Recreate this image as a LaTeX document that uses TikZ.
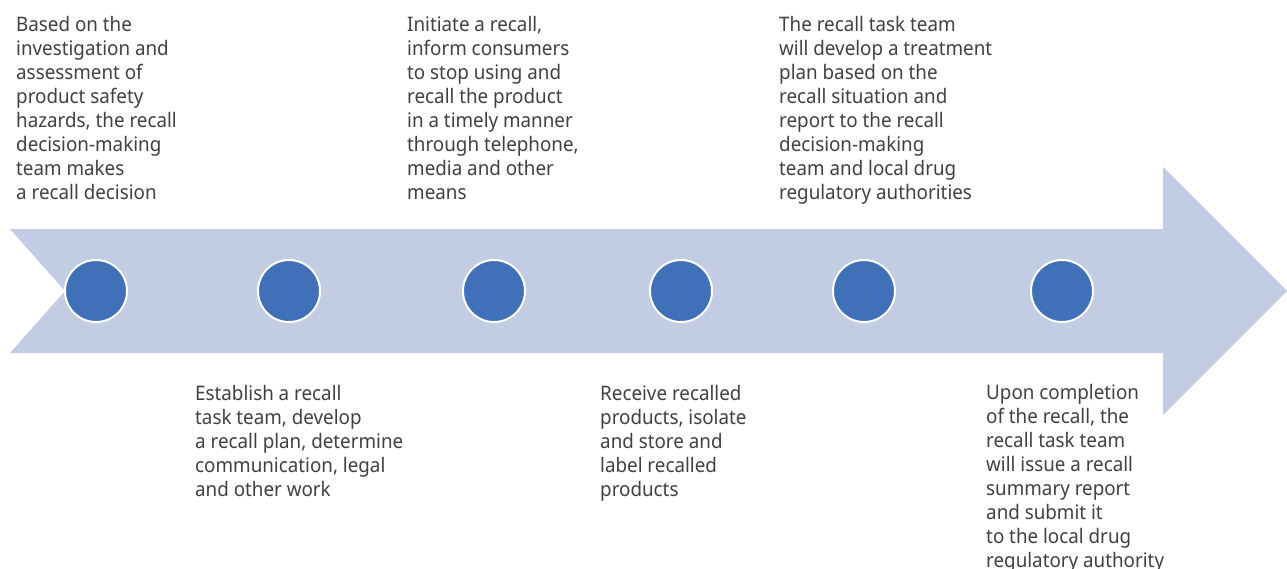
\documentclass[tikz,border=0pt]{standalone}
\usepackage{fontspec}
\setmainfont{Noto Sans}[FakeStretch=0.94]
\usetikzlibrary{positioning}
\definecolor{arrowfill}{HTML}{C2CCE3}
\definecolor{dotblue}{HTML}{3F70B8}
\definecolor{txtgray}{HTML}{404040}

\begin{document}
\begin{tikzpicture}[x=1pt,y=-1pt,
    dot/.style={circle,fill=dotblue,draw=white,line width=2pt,minimum size=62pt,inner sep=0pt},
    steptext/.style={anchor=north west,align=left,inner sep=0pt,text=txtgray,
      font=\fontsize{20}{24}\selectfont}]
  \useasboundingbox (0,0) rectangle (1287,568);
  % the big arrow
  \fill[arrowfill] (10,229) -- (1163,229) -- (1163,167) -- (1287,291)
    -- (1163,415) -- (1163,353) -- (10,353) -- (65,291) -- cycle;
  % steps on the arrow
  \node[dot] (s1) at (96,291) {};
  \node[dot] (s2) at (289,291) {};
  \node[dot] (s3) at (494,291) {};
  \node[dot] (s4) at (681,291) {};
  \node[dot] (s5) at (864,291) {};
  \node[dot] (s6) at (1062,291) {};
  % texts above
  \node[steptext] (t1) at (16,16) {Based on the\\investigation and\\assessment of\\product safety\\hazards, the recall\\decision-making\\team makes\\a recall decision};
  \node[steptext] (t3) at (407,16) {Initiate a recall,\\inform consumers\\to stop using and\\recall the product\\in a timely manner\\through telephone,\\media and other\\means};
  \node[steptext] (t5) at (779,16) {The recall task team\\will develop a treatment\\plan based on the\\recall situation and\\report to the recall\\decision-making\\team and local drug\\regulatory authorities};
  % texts below
  \node[steptext] (t2) at (195,385) {Establish a recall\\task team, develop\\a recall plan, determine\\communication, legal\\and other work};
  \node[steptext] (t4) at (600,385) {Receive recalled\\products, isolate\\and store and\\label recalled\\products};
  \node[steptext] (t6) at (986,384) {Upon completion\\of the recall, the\\recall task team\\will issue a recall\\summary report\\and submit it\\to the local drug\\regulatory authority};
\end{tikzpicture}
\end{document}
